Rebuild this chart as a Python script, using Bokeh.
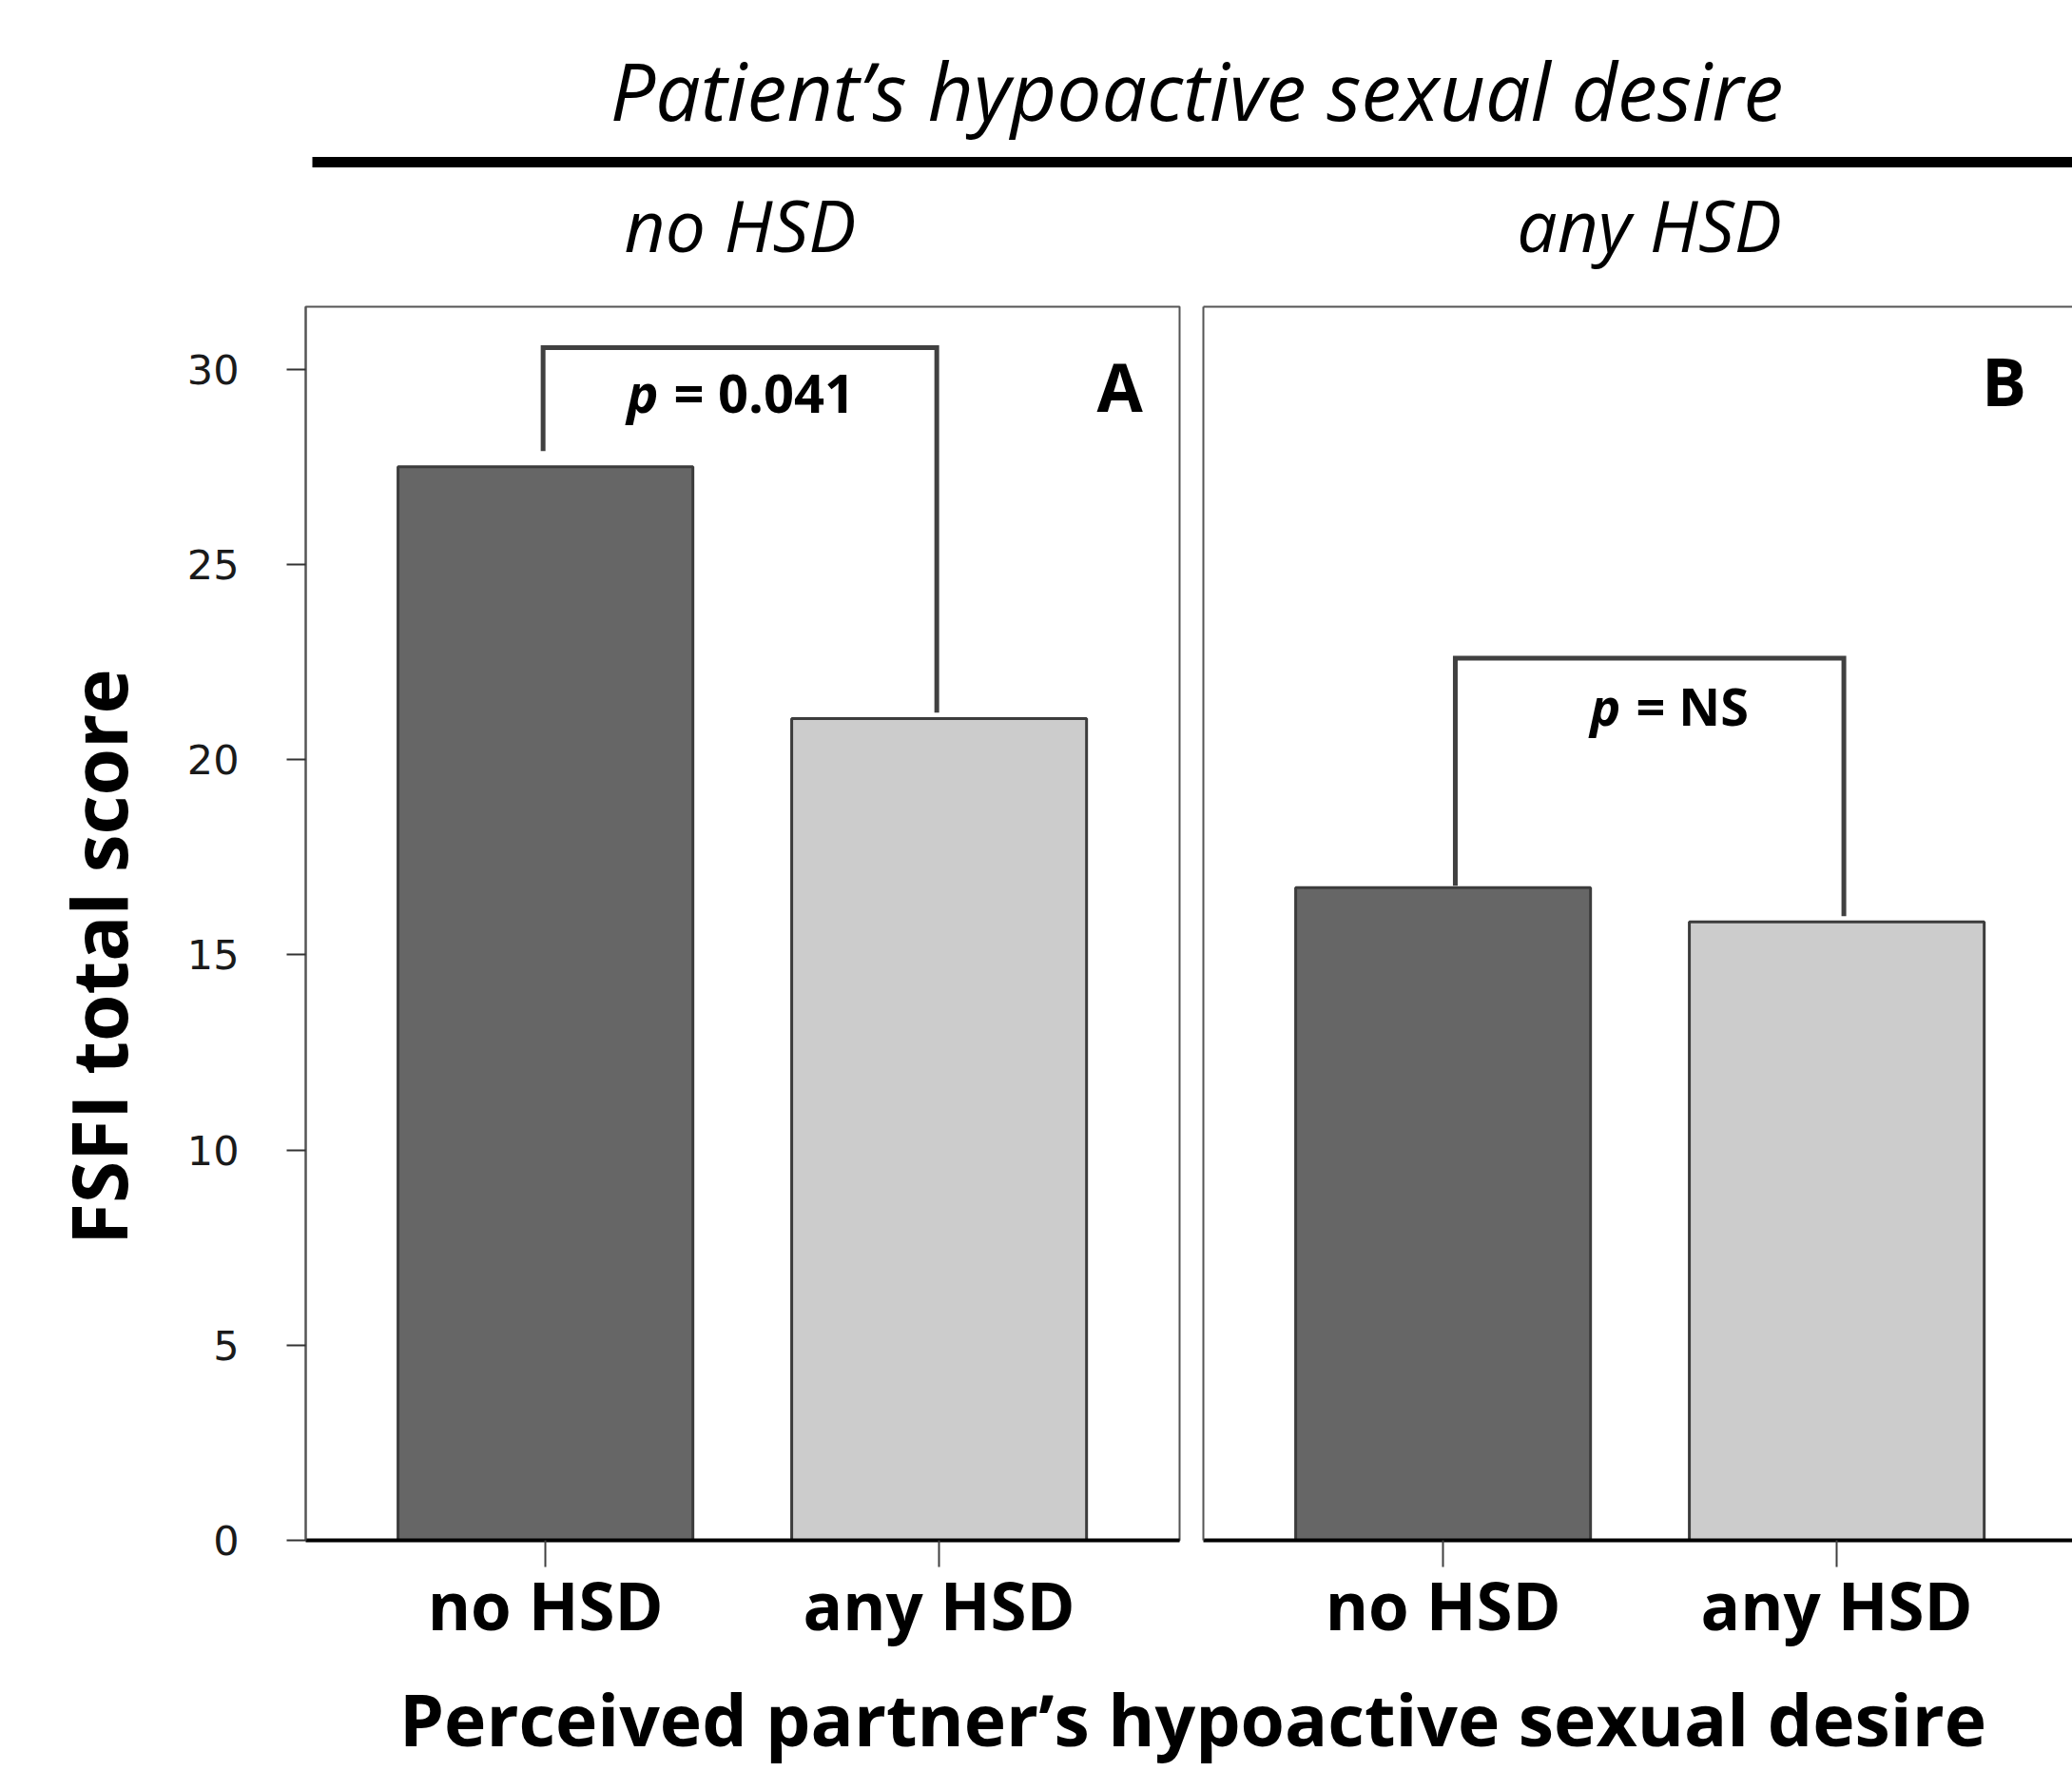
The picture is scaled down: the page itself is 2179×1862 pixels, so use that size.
import math
from bokeh.plotting import figure
from bokeh.layouts import column, row
from bokeh.models import Range1d, FixedTicker, LinearAxis, Label, BoxAnnotation
from bokeh.embed import file_html
from bokeh.resources import INLINE

# ---------------- data ----------------
categories = ["no HSD", "any HSD"]            # perceived partner's HSD (x axis)
panel_titles = ["no HSD", "any HSD"]          # patient's HSD (panels)
panel_letters = ["A", "B"]
fsfi_a = [27.5, 21.05]
fsfi_b = [16.72, 15.84]
p_values = ["0.041", "NS"]
bracket_tops = [30.55, 22.6]
bracket_gaps_a = [0.4, 0.15]
bracket_gaps_b = [0.05, 0.15]
y_ticks = [0, 5, 10, 15, 20, 25, 30]
bar_colors = ["#666666", "#cccccc"]

# ---------------- layout constants ----------------
W, H = 2179, 1862
HEADER_H = 308
FOOTER_H = 114
PANEL_H = H - HEADER_H - FOOTER_H      # 1440
YLAB_W = 180
A_W = 1252 - YLAB_W
B_W = W - YLAB_W - A_W
FONT = "Open Sans"
Y_MAX = 31.6
X0 = -0.109
PX_PER_UNIT = 414.0
PX_PER_Y = 1297 / Y_MAX
BAR_W = 0.749
BASE_K = 0.42    # empirical baseline correction (em)
xpos = [i + 0.5 for i in range(len(categories))]


def base_fig(width, height, xr, yr, **kw):
    p = figure(width=width, height=height, x_range=xr, y_range=yr,
               output_backend="svg", toolbar_location=None, tools="",
               x_axis_location=None, y_axis_location=None, **kw)
    p.grid.visible = False
    p.background_fill_color = "white"
    p.border_fill_color = "white"
    return p


def make_panel(width, values, gaps, btop, letter, pval, border_left, border_right,
               p_anchor, letter_pos, with_yaxis, pfs, leg_shift):
    frame_w = width - border_left - border_right
    p = base_fig(width, PANEL_H, Range1d(X0, X0 + frame_w / PX_PER_UNIT), Range1d(0, Y_MAX),
                 min_border_left=border_left, min_border_right=border_right,
                 min_border_top=14, min_border_bottom=129)
    p.vbar(x=xpos, top=values, width=BAR_W, bottom=0, fill_color=bar_colors,
           line_color="#3c3c3c", line_width=3)
    # significance bracket
    bx = [xpos[0] + leg_shift[0], xpos[0] + leg_shift[0],
          xpos[1] + leg_shift[1], xpos[1] + leg_shift[1]]
    by = [values[0] + gaps[0], btop, btop, values[1] + gaps[1]]
    p.line(bx, by, line_color="#404040", line_width=5, line_join="miter")

    py = p_anchor[1] + BASE_K * pfs / PX_PER_Y
    p.add_layout(Label(x=p_anchor[0], y=py, text="p", x_offset=-7,
                       text_font=FONT, text_font_style="bold italic", text_font_size=f"{pfs}px",
                       text_align="right", text_baseline="alphabetic", text_color="black"))
    p.add_layout(Label(x=p_anchor[0], y=py, text="= " + pval, x_offset=9,
                       text_font=FONT, text_font_style="bold", text_font_size=f"{pfs}px",
                       text_align="left", text_baseline="alphabetic", text_color="black"))
    lfs = 70
    p.add_layout(Label(x=letter_pos[0], y=letter_pos[1] + BASE_K * lfs / PX_PER_Y, text=letter,
                       text_font=FONT, text_font_style="bold", text_font_size=f"{lfs}px",
                       text_align="center", text_baseline="alphabetic", text_color="black"))

    # bottom x axis
    xa = LinearAxis(ticker=FixedTicker(ticks=xpos),
                    major_label_overrides={x: c for x, c in zip(xpos, categories)})
    xa.axis_line_color = "black"
    xa.axis_line_width = 4
    xa.major_tick_out = 28
    xa.major_tick_in = 0
    xa.major_tick_line_color = "#404040"
    xa.major_tick_line_width = 2
    xa.minor_tick_line_color = None
    xa.major_label_text_font = FONT
    xa.major_label_text_font_style = "bold"
    xa.major_label_text_font_size = "69px"
    xa.major_label_text_color = "black"
    xa.major_label_standoff = -8
    p.add_layout(xa, "below")

    if with_yaxis:
        p.outline_line_color = "#555555"
        p.outline_line_width = 2
        ya = LinearAxis(ticker=FixedTicker(ticks=y_ticks))
        ya.axis_line_color = "#555555"
        ya.axis_line_width = 2
        ya.major_tick_out = 20
        ya.major_tick_in = 0
        ya.major_tick_line_color = "#333333"
        ya.major_tick_line_width = 2
        ya.minor_tick_line_color = None
        ya.major_label_text_font = "DejaVu Sans"
        ya.major_label_text_font_size = "43px"
        ya.major_label_text_color = "#1a1a1a"
        ya.major_label_standoff = 50
        p.add_layout(ya, "left")
    else:
        p.outline_line_color = None
        for loc in ("left", "above"):
            ax = LinearAxis(ticker=FixedTicker(ticks=[]))
            ax.axis_line_color = "#555555"
            ax.axis_line_width = 2
            ax.major_tick_line_color = None
            ax.minor_tick_line_color = None
            ax.major_label_text_font_size = "0px"
            p.add_layout(ax, loc)
    return p


pa = make_panel(A_W, fsfi_a, bracket_gaps_a, bracket_tops[0], panel_letters[0], p_values[0],
                321 - YLAB_W, 12, (0.804, 28.85), (1.959, 28.85), True, 56, (-0.006, -0.006))
pb = make_panel(B_W, fsfi_b, bracket_gaps_b, bracket_tops[1], panel_letters[1], p_values[1],
                13, 0, (0.968, 20.83), (1.925, 29.0), False, 54, (0.031, 0.018))

# ---------------- y-axis title column ----------------
ylab = base_fig(YLAB_W, PANEL_H, Range1d(0, YLAB_W), Range1d(0, PANEL_H), min_border=0)
ylab.outline_line_color = None
yfs = 80
ylab.add_layout(Label(x=136 - BASE_K * yfs, y=PANEL_H - (1011 + 56 - HEADER_H),
                      text="FSFI total score", angle=math.pi / 2,
                      text_font=FONT, text_font_style="bold", text_font_size=f"{yfs}px",
                      text_align="center", text_baseline="alphabetic", text_color="black"))

# ---------------- header ----------------
hdr = base_fig(W, HEADER_H, Range1d(0, W), Range1d(0, HEADER_H), min_border=0)
hdr.outline_line_color = None
tfs = 84
hdr.add_layout(Label(x=1258, y=HEADER_H - 129 + BASE_K * tfs,
                     text="Patient\u2019s hypoactive sexual desire",
                     text_font=FONT, text_font_style="italic", text_font_size=f"{tfs}px",
                     text_align="center", text_baseline="alphabetic", text_color="black"))
hdr.add_layout(BoxAnnotation(left=328, right=W, bottom=HEADER_H - 175.5, top=HEADER_H - 164.5,
                             fill_color="black", fill_alpha=1.0, line_color=None))
sfs = 75
for cx, t in zip([778, 1734], panel_titles):
    hdr.add_layout(Label(x=cx, y=HEADER_H - 267 + BASE_K * sfs, text=t, text_font=FONT,
                         text_font_style="italic", text_font_size=f"{sfs}px",
                         text_align="center", text_baseline="alphabetic", text_color="black"))

# ---------------- footer ----------------
ftr = base_fig(W, FOOTER_H, Range1d(0, W), Range1d(0, FOOTER_H), min_border=0)
ftr.outline_line_color = None
ffs = 75
ftr.add_layout(Label(x=1254, y=H - 1838 + BASE_K * ffs,
                     text="Perceived partner\u2019s hypoactive sexual desire",
                     text_font=FONT, text_font_style="bold", text_font_size=f"{ffs}px",
                     text_align="center", text_baseline="alphabetic", text_color="black"))

layout = column(hdr, row(ylab, pa, pb), ftr)
open("out.html", "w").write(file_html(layout, INLINE))
